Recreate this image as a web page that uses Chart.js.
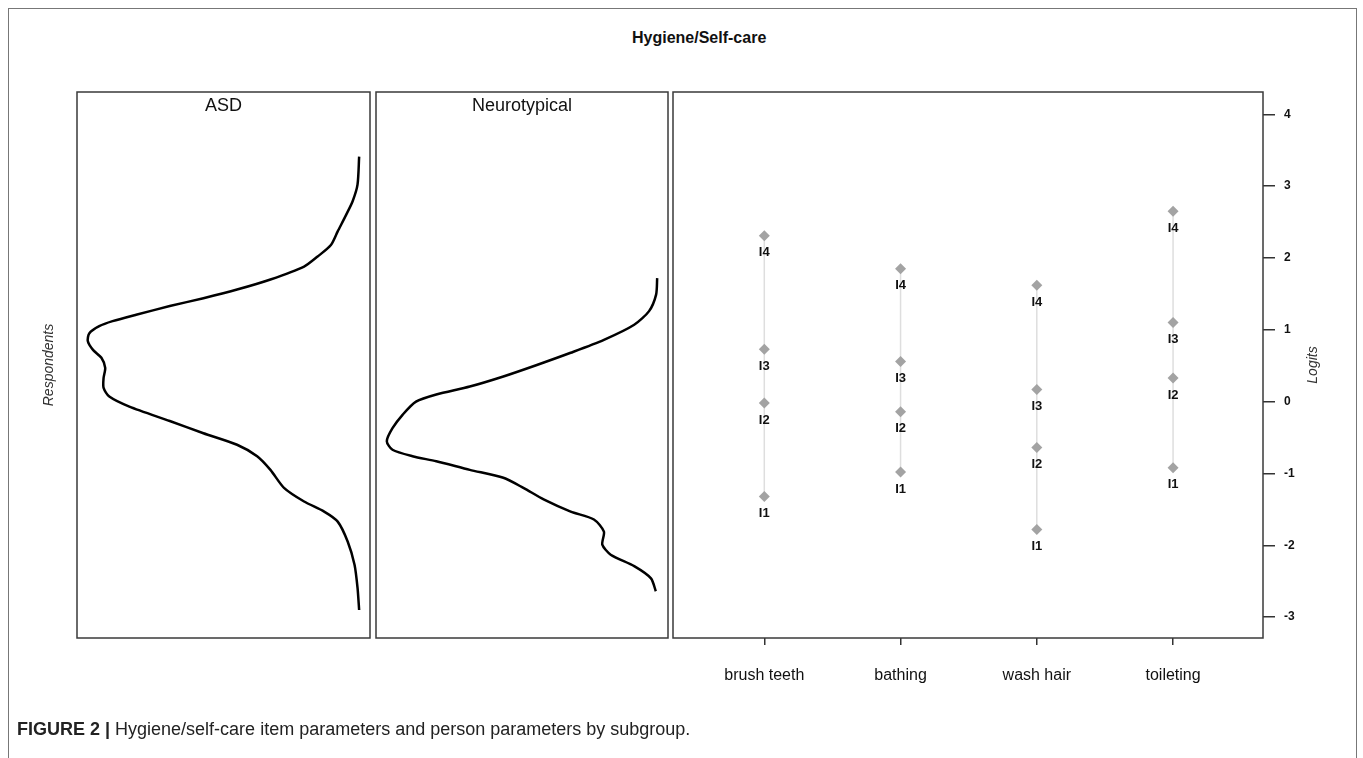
<!DOCTYPE html>
<html>
<head>
<meta charset="utf-8">
<title>Hygiene/Self-care</title>
<script src="https://cdn.jsdelivr.net/npm/chart.js@4.4.1/dist/chart.umd.min.js"></script>
<style>
  body { margin: 0; background: #fff; overflow: hidden; font-family: "Liberation Sans", Arial, sans-serif; color: #111; }
  #wrap { position: relative; width: 1363px; height: 758px; }
  #frame { position: absolute; left: 8px; top: 8px; width: 1347px; height: 800px; border: 1px solid #777; }
  canvas { position: absolute; left: 0; top: 0; }
  #title { position: absolute; left: 632px; top: 29px; font-weight: bold; font-size: 16px; line-height: 18px; }
  #caption { position: absolute; left: 17px; top: 719px; font-size: 18px; line-height: 20px; color: #222; }
  #caption b { font-weight: bold; }
</style>
</head>
<body>
<div id="wrap">
  <div id="frame"></div>
  <div id="title">Hygiene/Self-care</div>
  <canvas id="asd" width="1363" height="758"></canvas>
  <canvas id="nt" width="1363" height="758"></canvas>
  <canvas id="items" width="1363" height="758"></canvas>
  <div id="caption"><b>FIGURE 2 |</b> Hygiene/self-care item parameters and person parameters by subgroup.</div>
</div>
<script>
// item thresholds (logits), one array per threshold, in item order
var items = ["brush teeth", "bathing", "wash hair", "toileting"];
var thresholdNames = ["I1", "I2", "I3", "I4"];
var I1 = [-1.32, -0.98, -1.78, -0.92];
var I2 = [-0.02, -0.14, -0.64, 0.33];
var I3 = [0.73, 0.56, 0.17, 1.10];
var I4 = [2.31, 1.85, 1.62, 2.65];

var logitTicks = [-3, -2, -1, 0, 1, 2, 3, 4];

// person distributions: logit and relative density (peak = 1)
var asdLogit = [3.41, 3.02, 2.79, 2.60, 2.37, 2.18, 2.02, 1.88, 1.70, 1.56, 1.44, 1.33, 1.21, 1.12, 1.05, 0.95, 0.84, 0.72, 0.61, 0.47, 0.33, 0.19, 0.07, -0.07, -0.27, -0.44, -0.60, -0.76, -0.95, -1.20, -1.39, -1.53, -1.67, -1.95, -2.27, -2.59, -2.90];
var asdDens  = [0, 0.006, 0.024, 0.048, 0.079, 0.104, 0.153, 0.203, 0.327, 0.450, 0.574, 0.698, 0.822, 0.909, 0.958, 0.995, 1.0, 0.981, 0.950, 0.936, 0.942, 0.942, 0.921, 0.847, 0.698, 0.574, 0.450, 0.376, 0.327, 0.277, 0.203, 0.129, 0.079, 0.042, 0.017, 0.006, 0];
var ntLogit = [1.72, 1.49, 1.26, 1.07, 0.86, 0.68, 0.51, 0.35, 0.21, 0.10, 0.00, -0.18, -0.37, -0.55, -0.67, -0.76, -0.83, -0.95, -1.06, -1.20, -1.36, -1.53, -1.64, -1.81, -1.99, -2.13, -2.29, -2.46, -2.64];
var ntDens  = [0, 0.004, 0.03, 0.085, 0.197, 0.32, 0.445, 0.569, 0.693, 0.817, 0.892, 0.941, 0.979, 1.0, 0.979, 0.905, 0.817, 0.693, 0.569, 0.495, 0.42, 0.32, 0.234, 0.197, 0.203, 0.172, 0.085, 0.023, 0.005];

var yMin = -3.29, yMax = 4.31;
var FONT = '"Liberation Sans", Arial, sans-serif';

// box around the plot region + panel title
var panelBox = {
  id: 'panel',
  afterDraw: function(chart, args, opts) {
    var a = chart.chartArea, ctx = chart.ctx;
    ctx.save();
    ctx.strokeStyle = '#3a3a3a';
    ctx.lineWidth = 1.5;
    ctx.strokeRect(a.left, a.top, a.right - a.left, a.bottom - a.top);
    if (opts.title) {
      ctx.fillStyle = '#111';
      ctx.font = '18px ' + FONT;
      ctx.textAlign = 'center';
      ctx.textBaseline = 'middle';
      ctx.fillText(opts.title, (a.left + a.right) / 2, a.top + 14);
    }
    ctx.restore();
  }
};

function densityChart(id, logits, dens, title, pad, showTitle) {
  var pts = logits.map(function(v, i) { return { x: dens[i], y: v }; });
  return new Chart(document.getElementById(id), {
    type: 'scatter',
    data: { datasets: [{ data: pts, showLine: true, borderColor: '#000', borderWidth: 2.5, pointRadius: 0, tension: 0.25 }] },
    options: {
      responsive: false, animation: false, devicePixelRatio: 1,
      layout: { padding: pad },
      plugins: { legend: { display: false }, tooltip: { enabled: false }, panel: { title: title } },
      scales: {
        x: { type: 'linear', min: -0.04, max: 1.04, reverse: true, display: false },
        y: {
          type: 'linear', min: yMin, max: yMax, position: 'left',
          display: showTitle,
          ticks: { display: false },
          grid: { display: false },
          border: { display: false },
          title: { display: showTitle, text: 'Respondents', color: '#333', font: { family: FONT, size: 14, style: 'italic' }, padding: { top: 4, bottom: 4 } },
          afterFit: function(s) { s.width = showTitle ? 40 : 0; }
        }
      }
    },
    plugins: [panelBox]
  });
}

densityChart('asd', asdLogit, asdDens, 'ASD', { left: 37, right: 993, top: 92, bottom: 120 }, true);
densityChart('nt', ntLogit, ntDens, 'Neurotypical', { left: 376, right: 695, top: 92, bottom: 120 }, false);

// item map
var thresholds = [I1, I2, I3, I4];
var itemSets = items.map(function(name, i) {
  return {
    label: name,
    data: thresholds.map(function(t) { return { x: i + 1, y: t[i] }; }),
    showLine: true,
    borderColor: '#dedede',
    borderWidth: 1.5,
    pointStyle: 'rectRot',
    pointRadius: 5.5,
    pointBackgroundColor: '#a3a3a3',
    pointBorderColor: '#a3a3a3',
    pointBorderWidth: 0
  };
});

var itemLabels = {
  id: 'itemLabels',
  afterDatasetsDraw: function(chart) {
    var ctx = chart.ctx;
    ctx.save();
    ctx.fillStyle = '#111';
    ctx.font = 'bold 13px ' + FONT;
    ctx.textAlign = 'center';
    ctx.textBaseline = 'middle';
    chart.data.datasets.forEach(function(ds, i) {
      chart.getDatasetMeta(i).data.forEach(function(pt, j) {
        ctx.fillText(thresholdNames[j], pt.x, pt.y + 17);
      });
    });
    // right axis title, reading bottom to top
    var a = chart.chartArea;
    ctx.font = 'italic 14px ' + FONT;
    ctx.fillStyle = '#333';
    ctx.translate(1313, (a.top + a.bottom) / 2);
    ctx.rotate(-Math.PI / 2);
    ctx.fillText('Logits', 0, 0);
    ctx.restore();
  }
};

new Chart(document.getElementById('items'), {
  type: 'scatter',
  data: { datasets: itemSets },
  options: {
    responsive: false, animation: false, devicePixelRatio: 1,
    layout: { padding: { left: 673, right: 40, top: 92, bottom: 60 } },
    plugins: { legend: { display: false }, tooltip: { enabled: false }, panel: {} },
    scales: {
      x: {
        type: 'linear', position: 'bottom', min: 0.33, max: 4.66,
        afterBuildTicks: function(s) { s.ticks = items.map(function(n, i) { return { value: i + 1 }; }); },
        afterFit: function(s) { s.height = 60; },
        ticks: { color: '#111', padding: 21, maxRotation: 0, autoSkip: false, font: { family: FONT, size: 16 },
                 callback: function(v) { return items[Math.round(v) - 1]; } },
        grid: { drawOnChartArea: false, drawTicks: true, tickLength: 7, color: '#333', lineWidth: 1.5 },
        border: { display: false }
      },
      y: {
        type: 'linear', position: 'right', min: yMin, max: yMax,
        afterBuildTicks: function(s) { s.ticks = logitTicks.map(function(v) { return { value: v }; }); },
        afterFit: function(s) { s.width = 60; },
        ticks: { color: '#111', padding: 9, font: { family: FONT, size: 12, weight: 'bold' } },
        grid: { drawOnChartArea: false, drawTicks: true, tickLength: 12, color: '#333', lineWidth: 1.5 },
        border: { display: false }
      }
    }
  },
  plugins: [panelBox, itemLabels]
});
</script>
</body>
</html>
